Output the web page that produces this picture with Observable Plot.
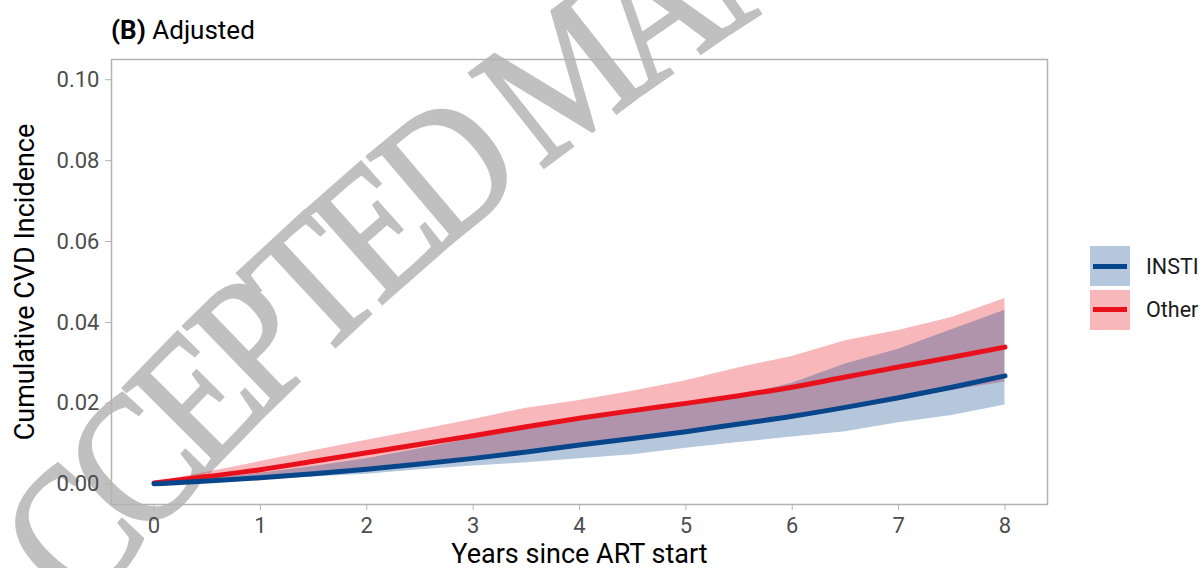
<!DOCTYPE html>
<html>
<head>
<meta charset="utf-8">
<script src="https://cdn.jsdelivr.net/npm/d3@7"></script>
<script src="https://cdn.jsdelivr.net/npm/@observablehq/plot@0.6"></script>
<style>
  html, body { margin: 0; padding: 0; background: #fff; }
  #wrap { position: relative; width: 1203px; height: 568px; overflow: hidden; font-family: Roboto, "Noto Sans", sans-serif; }
  #wm { position: absolute; left: 0; top: 0; }
  #chart { position: absolute; left: 0; top: 0; }
  #title { position: absolute; left: 111px; top: 17px; font-size: 26px; line-height: 26px; color: #000; white-space: nowrap; }
  .legend-row { position: absolute; left: 1090px; height: 40px; display: flex; align-items: center; }
  .key { width: 40px; height: 40px; position: relative; }
  .key .bar { position: absolute; left: 3px; right: 3px; top: 17.5px; height: 5px; }
  .legend-row span { margin-left: 16px; font-size: 21.5px; color: #1a1a1a; }
  #chart [aria-label="x-axis tick"], #chart [aria-label="y-axis tick"] { stroke: #b3b3b3; }
  #chart [aria-label="x-axis tick label"], #chart [aria-label="y-axis tick label"] { fill: #4d4d4d; }
</style>
</head>
<body>
<div id="wrap">
  <svg id="wm" width="1203" height="568">
    <g transform="translate(133,556) rotate(-43) scale(1,1.15)">
      <path id="wmpath" d="M -400,57.6 Q 400,-103.7 1200,103.6" fill="none" stroke="none"></path>
      <text font-family="'Liberation Serif', 'DejaVu Serif', serif" font-size="160" letter-spacing="-14" fill="#c0c0c0" stroke="#c0c0c0" stroke-width="2.5">
        <textPath href="#wmpath" startOffset="225">ACCEPTED MANUSCRIPT</textPath>
      </text>
    </g>
  </svg>
  <div id="chart"></div>
  <div id="title"><b>(B)</b> Adjusted</div>
  <div id="legend"></div>
</div>
<script>
// ---- data ----
const years = [0, 0.5, 1, 1.5, 2, 2.5, 3, 3.5, 4, 4.5, 5, 5.5, 6, 6.5, 7, 7.5, 8];

const instiEst = [0.0001, 0.0008, 0.0016, 0.0026, 0.0037, 0.0050, 0.0064, 0.0080, 0.0097, 0.0113, 0.0130, 0.0149, 0.0168, 0.0190, 0.0214, 0.0240, 0.0268];
const instiLo  = [0.0000, 0.0005, 0.0011, 0.0018, 0.0025, 0.0036, 0.0045, 0.0053, 0.0063, 0.0073, 0.0089, 0.0103, 0.0117, 0.0130, 0.0152, 0.0170, 0.0196];
const instiHi  = [0.0002, 0.0013, 0.0027, 0.0044, 0.0063, 0.0088, 0.0113, 0.0136, 0.0155, 0.0176, 0.0195, 0.0218, 0.0250, 0.0297, 0.0334, 0.0382, 0.0430];

const otherEst = [0.0003, 0.0019, 0.0036, 0.0057, 0.0078, 0.0099, 0.0120, 0.0142, 0.0163, 0.0182, 0.0200, 0.0219, 0.0240, 0.0265, 0.0290, 0.0314, 0.0339];
const otherLo  = [0.0002, 0.0009, 0.0018, 0.0029, 0.0040, 0.0054, 0.0068, 0.0084, 0.0100, 0.0116, 0.0133, 0.0150, 0.0168, 0.0188, 0.0210, 0.0232, 0.0253];
const otherHi  = [0.0005, 0.0030, 0.0056, 0.0083, 0.0109, 0.0134, 0.0160, 0.0188, 0.0207, 0.0230, 0.0256, 0.0288, 0.0316, 0.0355, 0.0380, 0.0412, 0.0459];

const groups = ["INSTI", "Other"];
const groupColors = ["#08468c", "#e8111b"];
const xTicks = [0, 1, 2, 3, 4, 5, 6, 7, 8];
const yTicks = [0, 0.02, 0.04, 0.06, 0.08, 0.10];
const xTitle = "Years since ART start";
const yTitle = "Cumulative CVD Incidence";

// ---- build tables ----
const insti = years.map((t, i) => ({year: t, est: instiEst[i], lo: instiLo[i], hi: instiHi[i], group: groups[0]}));
const other = years.map((t, i) => ({year: t, est: otherEst[i], lo: otherLo[i], hi: otherHi[i], group: groups[1]}));
const [blue, red] = groupColors;

const chart = Plot.plot({
  width: 1203,
  height: 568,
  marginLeft: 111,
  marginRight: 156,
  marginTop: 59,
  marginBottom: 64,
  style: {fontFamily: "Roboto, 'Noto Sans', sans-serif", background: "transparent", overflow: "visible"},
  x: {domain: [-0.4, 8.4]},
  y: {domain: [-0.005, 0.105]},
  marks: [
    Plot.areaY(other, {x: "year", y1: "lo", y2: "hi", fill: red, fillOpacity: 0.3}),
    Plot.areaY(insti, {x: "year", y1: "lo", y2: "hi", fill: blue, fillOpacity: 0.3}),
    Plot.line(other, {x: "year", y: "est", stroke: red, strokeWidth: 5, curve: "monotone-x"}),
    Plot.line(insti, {x: "year", y: "est", stroke: blue, strokeWidth: 5, curve: "monotone-x"}),
    Plot.frame({stroke: "#b3b3b3", strokeWidth: 1.5}),
    Plot.axisX({ticks: xTicks, tickFormat: d3.format("d"), tickSize: 6, tickPadding: 7, fontSize: 22, label: null}),
    Plot.axisY({ticks: yTicks, tickFormat: d3.format(".2f"), tickSize: 6, tickPadding: 6, fontSize: 22, label: null}),
    Plot.text([xTitle], {frameAnchor: "bottom", dy: 50, fontSize: 27, fill: "#000", lineAnchor: "middle", textAnchor: "middle"}),
    Plot.text([yTitle], {frameAnchor: "left", dx: -86.6, rotate: -90, fontSize: 27, fill: "#000", lineAnchor: "middle", textAnchor: "middle"})
  ]
});
document.getElementById("chart").appendChild(chart);

// ---- legend ----
const legend = document.getElementById("legend");
groups.forEach((g, i) => {
  const row = document.createElement("div");
  row.className = "legend-row";
  row.style.top = (246 + i * 43.5) + "px";
  const key = document.createElement("div");
  key.className = "key";
  key.style.background = d3.interpolateRgb("#ffffff", groupColors[i])(0.3);
  const bar = document.createElement("div");
  bar.className = "bar";
  bar.style.background = groupColors[i];
  key.appendChild(bar);
  const label = document.createElement("span");
  label.textContent = g;
  row.appendChild(key);
  row.appendChild(label);
  legend.appendChild(row);
});
</script>
</body>
</html>
